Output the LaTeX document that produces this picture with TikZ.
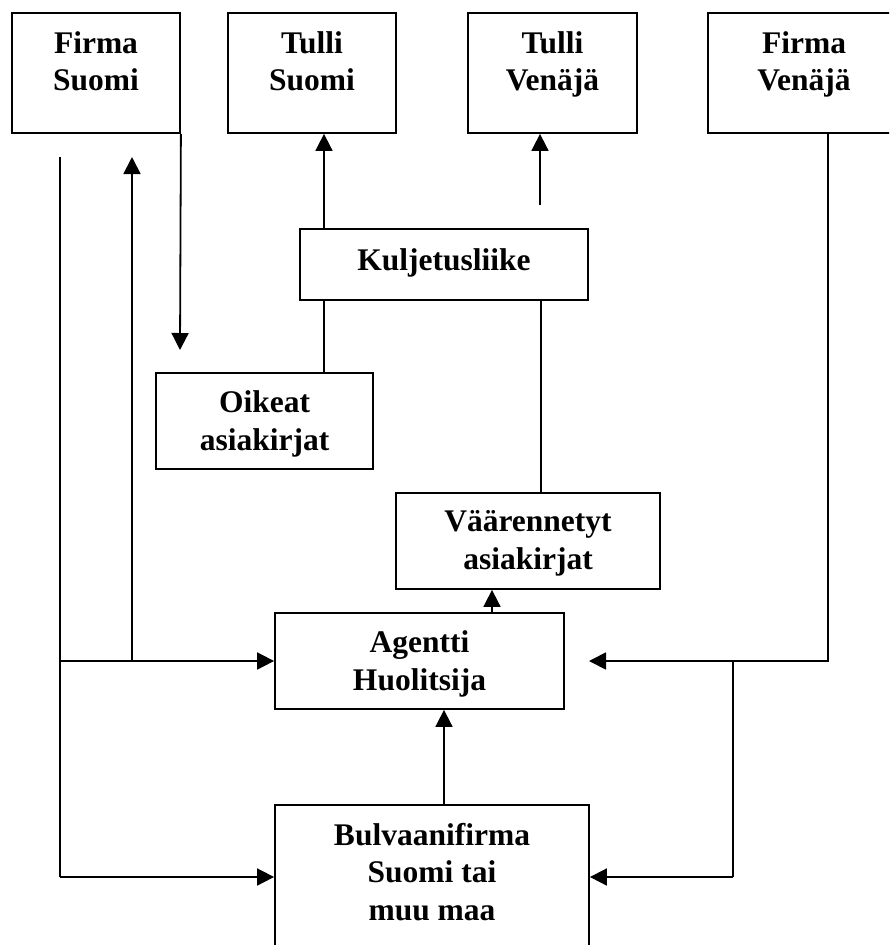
\documentclass[tikz,border=0pt]{standalone}
\usepackage{fontspec}
\setmainfont{Liberation Serif}
\usetikzlibrary{arrows.meta}
\begin{document}
\begin{tikzpicture}[x=1pt,y=-1pt,
  frame/.style={draw, line width=1.8pt, inner sep=0pt},
  txt/.style={align=center, inner sep=0pt, font=\fontsize{31.5}{37.5}\selectfont\bfseries},
  conn/.style={line width=1.8pt},
  arr/.style={line width=1.8pt, -{Triangle[length=17pt,width=17pt]}}]
\useasboundingbox (0,0) rectangle (889,945);
\clip (0,0) rectangle (889,945);
% top boxes
\node[frame, minimum width=168, minimum height=120] (fs) at (96,73) {};
\node[txt] (fst) at (96,64.25) {Firma\strut\\Suomi\strut};
\node[frame, minimum width=168, minimum height=120] (ts) at (312,73) {};
\node[txt] (tst) at (312,64.25) {Tulli\strut\\Suomi\strut};
\node[frame, minimum width=169, minimum height=120] (tv) at (552.5,73) {};
\node[txt] (tvt) at (552.5,64.25) {Tulli\strut\\Venäjä\strut};
\node[frame, minimum width=192, minimum height=120] (fv) at (804,73) {};
\node[txt] (fvt) at (804,64.25) {Firma\strut\\Venäjä\strut};
% middle boxes
\node[frame, minimum width=288, minimum height=71] (kulj) at (444,264.5) {};
\node[txt] (kuljt) at (444,262.5) {Kuljetusliike\strut};
\node[frame, minimum width=217, minimum height=96] (oik) at (264.5,421) {};
\node[txt] (oikt) at (264.5,424) {Oikeat\strut\\asiakirjat\strut};
\node[frame, minimum width=264, minimum height=96] (vaar) at (528,541) {};
\node[txt] (vaart) at (528,543) {Väärennetyt\strut\\asiakirjat\strut};
\node[frame, minimum width=289, minimum height=96] (agent) at (419.5,661) {};
\node[txt] (agentt) at (419.5,664) {Agentti\strut\\Huolitsija\strut};
\node[frame, minimum width=314, minimum height=195] (bulv) at (432,902.5) {};
\node[txt] (bulvt) at (432,875) {Bulvaanifirma\strut\\Suomi tai\strut\\muu maa\strut};
% free ends
\coordinate (fsdown) at (180,350);
\coordinate (lefttop) at (60,157);
\coordinate (upend) at (132,157);
\coordinate (tvstart) at (540,205);
\coordinate (agentR) at (589,661);
% connectors
\draw[arr] (fs.south east) -- (fsdown);
\draw[conn] (lefttop) -- (60,877);
\draw[arr] (60,877) -- (bulv.west |- 0,877);
\draw[arr] (60,661) -- (agent.west);
\draw[arr] (132,661) -- (upend);
\draw[arr] (kulj.north -| 324,0) -- (ts.south -| 324,0);
\draw[arr] (tvstart) -- (tv.south -| tvstart);
\draw[conn] (kulj.south -| 324,0) -- (oik.north -| 324,0);
\draw[conn] (kulj.south -| 541,0) -- (vaar.north -| 541,0);
\draw[arr] (agent.north -| 492,0) -- (vaar.south -| 492,0);
\draw[arr] (bulv.north -| 444,0) -- (agent.south -| 444,0);
\draw[arr] (fv.south -| 828,0) -- (828,661) -- (agentR);
\draw[conn] (733,661) -- (733,877);
\draw[arr] (733,877) -- (bulv.east |- 0,877);
\end{tikzpicture}
\end{document}
